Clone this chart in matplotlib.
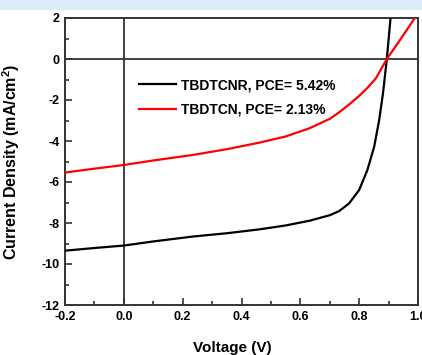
# -*- coding: utf-8 -*-
import matplotlib
matplotlib.use('Agg')
import matplotlib.pyplot as plt
from matplotlib.patches import Rectangle
from matplotlib.ticker import MultipleLocator

plt.rcParams['font.family'] = ['Liberation Sans', 'DejaVu Sans']
plt.rcParams['font.weight'] = 'bold'
plt.rcParams['mathtext.fontset'] = 'custom'
plt.rcParams['mathtext.rm'] = 'Liberation Sans:bold'
plt.rcParams['mathtext.bf'] = 'Liberation Sans:bold'

# J-V curves
v_tbdtcnr = [-0.2, -0.1, 0.0, 0.1, 0.235, 0.35, 0.461, 0.55, 0.631, 0.7, 0.732,
             0.766, 0.8, 0.828, 0.851, 0.868, 0.881, 0.894, 0.907]
j_tbdtcnr = [-9.35, -9.22, -9.1, -8.9, -8.66, -8.5, -8.31, -8.12, -7.89, -7.62, -7.42,
             -7.04, -6.39, -5.41, -4.28, -2.98, -1.67, 0.0, 2.06]

v_tbdtcn = [-0.2, -0.1, 0.0, 0.1, 0.235, 0.35, 0.461, 0.55, 0.631, 0.7, 0.732,
            0.766, 0.8, 0.83, 0.857, 0.894, 0.94, 0.992]
j_tbdtcn = [-5.54, -5.35, -5.17, -4.95, -4.68, -4.4, -4.08, -3.78, -3.38, -2.92, -2.6,
            -2.22, -1.8, -1.38, -0.94, 0.0, 0.95, 2.06]

labels = ['TBDTCNR, PCE= 5.42%', 'TBDTCN, PCE= 2.13%']

fig = plt.figure(figsize=(4.22, 3.55), dpi=100)
fig.patches.append(Rectangle((0, 1 - 10 / 355.), 1, 10 / 355., transform=fig.transFigure,
                             facecolor='#dcedf7', edgecolor='none', zorder=0))
ax = fig.add_axes([65 / 422., 1 - 305 / 355., 353 / 422., 287 / 355.])

ax.axhline(0, color='#333333', lw=1.3, zorder=1)
ax.axvline(0, color='#333333', lw=1.3, zorder=1)
ax.plot(v_tbdtcnr, j_tbdtcnr, color='black', lw=1.6, label=labels[0], zorder=3)
ax.plot(v_tbdtcn, j_tbdtcn, color='#ff0000', lw=1.6, label=labels[1], zorder=3)

ax.set_xlim(-0.2, 1.0)
ax.set_ylim(-12, 2)
ax.xaxis.set_major_locator(MultipleLocator(0.2))
ax.xaxis.set_minor_locator(MultipleLocator(0.1))
ax.yaxis.set_major_locator(MultipleLocator(2))
ax.yaxis.set_minor_locator(MultipleLocator(1))
ax.xaxis.set_major_formatter(plt.FuncFormatter(lambda x, p: '%.1f' % x))
ax.yaxis.set_major_formatter(plt.FuncFormatter(lambda y, p: '%d' % y))
ax.tick_params(which='both', direction='in', top=False, right=False,
               labelsize=9, width=1.2, color='#333333')
ax.tick_params(which='major', length=5, pad=4)
ax.tick_params(which='minor', length=3)
for s in ax.spines.values():
    s.set_linewidth(1.4)
    s.set_color('#333333')

ax.set_xlabel('Voltage (V)', fontsize=11, fontweight='bold')
ax.set_ylabel('Current Density (mA/cm$^2$)', fontsize=11.5, fontweight='bold')
ax.xaxis.set_label_coords(0.473, -0.125)
ax.yaxis.set_label_coords(-0.122, 0.5)

ax.legend(loc='upper left', bbox_to_anchor=(0.194, 0.81), frameon=False,
          fontsize=10, handlelength=2.65, handletextpad=0.36, labelspacing=0.75,
          borderaxespad=0)

fig.savefig('out.png', dpi=100)
